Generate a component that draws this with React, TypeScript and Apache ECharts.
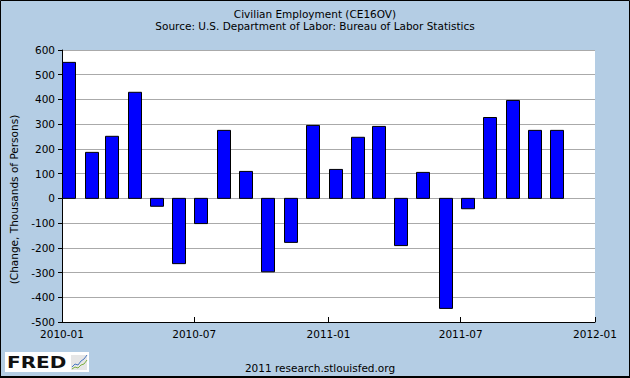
import React, { useEffect, useRef } from "react";
import * as echarts from "echarts";

const months = [
  "2010-01", "2010-02", "2010-03", "2010-04", "2010-05", "2010-06",
  "2010-07", "2010-08", "2010-09", "2010-10", "2010-11", "2010-12",
  "2011-01", "2011-02", "2011-03", "2011-04", "2011-05", "2011-06",
  "2011-07", "2011-08", "2011-09", "2011-10", "2011-11",
];
const changes = [
  550, 186, 251, 429, -32, -264, -102, 275, 109, -297, -178, 295,
  117, 247, 291, -191, 105, -445, -42, 327, 396, 275, 275,
];
const xTickLabels = ["2010-01", "2010-07", "2011-01", "2011-07", "2012-01"];
const yMin = -500;
const yMax = 600;
const yStep = 100;

const titleText = "Civilian Employment (CE16OV)";
const subtitleText = "Source: U.S. Department of Labor: Bureau of Labor Statistics";
const yAxisName = "(Change, Thousands of Persons)";
const footerText = "2011 research.stlouisfed.org";

const FONT = "DejaVu Sans";

function toTime(ym: string): number {
  const [y, m] = ym.split("-").map(Number);
  return Date.UTC(y, m - 1, 1);
}

function fmt(v: number): string {
  const d = new Date(v);
  const m = d.getUTCMonth() + 1;
  return d.getUTCFullYear() + "-" + (m < 10 ? "0" + m : "" + m);
}

export default function App() {
  const ref = useRef<HTMLDivElement>(null);
  useEffect(() => {
    if (!ref.current) return;
    const chart = echarts.init(ref.current, null, { renderer: "svg" });
    const tickValues = xTickLabels.map(toTime);
    const data = months.map((m, i) => [toTime(m), changes[i]]);
    chart.setOption({
      animation: false,
      backgroundColor: "#b4cde4",
      textStyle: { fontFamily: FONT },
      title: {
        text: titleText,
        subtext: subtitleText,
        left: "center",
        top: 8,
        padding: 0,
        itemGap: 0,
        textStyle: { fontFamily: FONT, fontSize: 10.5, fontWeight: "normal", color: "#000", lineHeight: 12 },
        subtextStyle: { fontFamily: FONT, fontSize: 10.5, color: "#000", lineHeight: 12 },
      },
      grid: {
        left: 61,
        right: 35,
        top: 50,
        bottom: 56,
        show: true,
        backgroundColor: "#ffffff",
        borderWidth: 0,
      },
      xAxis: {
        type: "value",
        min: toTime(xTickLabels[0]),
        max: toTime(xTickLabels[xTickLabels.length - 1]),
        axisLine: { show: true, onZero: false, lineStyle: { color: "#000", width: 1 } },
        axisTick: {
          show: true,
          inside: true,
          length: 5,
          customValues: tickValues,
          lineStyle: { color: "#000", width: 1 },
        },
        axisLabel: {
          show: true,
          customValues: tickValues,
          formatter: (v: number) => fmt(v),
          margin: 6,
          color: "#000",
          fontFamily: FONT,
          fontSize: 10.5,
          showMinLabel: true,
          showMaxLabel: true,
          hideOverlap: false,
        },
        splitLine: { show: false },
      },
      yAxis: {
        type: "value",
        min: yMin,
        max: yMax,
        interval: yStep,
        name: yAxisName,
        nameLocation: "middle",
        nameGap: 43,
        nameTextStyle: { fontFamily: FONT, fontSize: 10.5, color: "#000", padding: [0, 27, 0, 0] },
        axisLine: { show: true, lineStyle: { color: "#000", width: 1 } },
        axisTick: { show: true, inside: false, length: 4, lineStyle: { color: "#000", width: 1 } },
        axisLabel: { margin: 7, color: "#000", fontFamily: FONT, fontSize: 10.5 },
        splitLine: { show: true, lineStyle: { color: "#aaaaaa", width: 1 } },
      },
      series: [
        {
          type: "custom",
          name: "CE16OV",
          data,
          encode: { x: 0, y: 1 },
          clip: false,
          renderItem: (params: any, api: any) => {
            const t = api.value(0);
            const v = api.value(1);
            const top = api.coord([t, v]);
            const base = api.coord([t, 0]);
            const x = Math.round(top[0]) + 0.5;
            const y1 = Math.min(top[1], base[1]);
            const y2 = Math.max(top[1], base[1]);
            return {
              type: "rect",
              shape: { x, y: y1, width: 13, height: y2 - y1 },
              style: { fill: "#0000ff", stroke: "#000000", lineWidth: 1 },
            };
          },
        },
      ],
      graphic: [
        {
          type: "text",
          x: 320,
          y: 368,
          style: {
            text: footerText,
            fontFamily: FONT,
            fontSize: 10.5,
            fill: "#000",
            align: "center",
            verticalAlign: "middle",
          },
        },
        {
          type: "group",
          children: [
            { type: "rect", shape: { x: 5, y: 352, width: 84, height: 20 }, style: { fill: "#ffffff" } },
            {
              type: "text",
              x: 7,
              y: 362.5,
              scaleX: 1.25,
              style: {
                text: "FRED",
                fontFamily: FONT,
                fontWeight: "bold",
                fontSize: 16,
                fill: "#111",
                align: "left",
                verticalAlign: "middle",
              },
            },
            { type: "rect", shape: { x: 71, y: 355, width: 16, height: 15 }, style: { fill: "#e6e6e6" } },
            {
              type: "polyline",
              shape: { points: [[72, 367], [75, 364], [78, 365], [81, 361], [84, 359], [87, 355]] },
              style: { stroke: "#4a78c0", lineWidth: 1, fill: "none" },
            },
            {
              type: "polyline",
              shape: { points: [[72, 369], [75, 367], [78, 368], [81, 365], [84, 364], [87, 360]] },
              style: { stroke: "#7cb040", lineWidth: 1, fill: "none" },
            },
          ],
        },
        {
          type: "rect",
          shape: { x: 0.5, y: 0.5, width: 629, height: 377 },
          style: { fill: "none", stroke: "#000", lineWidth: 1 },
          silent: true,
        },
        {
          type: "rect",
          shape: { x: 0, y: 376, width: 630, height: 2 },
          style: { fill: "#000" },
          silent: true,
        },
      ],
    });
    return () => chart.dispose();
  }, []);
  return (
    <div
      ref={ref}
      style={{ position: "fixed", left: 0, top: 0, width: 630, height: 378 }}
    />
  );
}
